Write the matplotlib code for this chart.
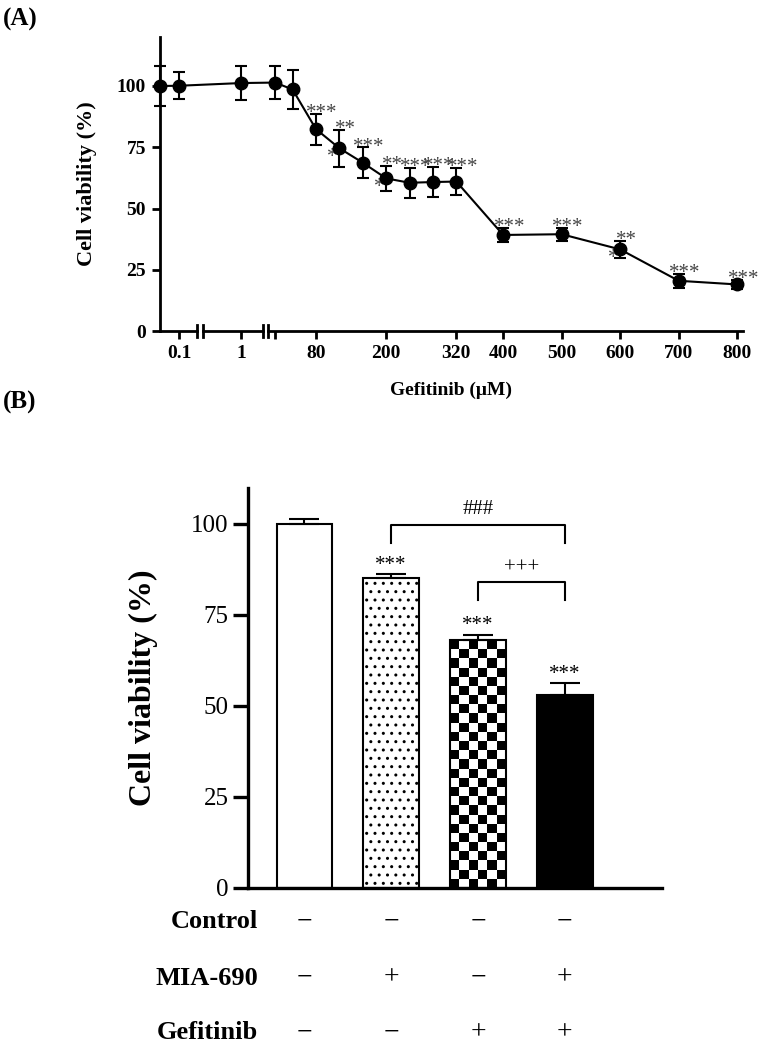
import matplotlib
matplotlib.use('Agg')
import matplotlib.pyplot as plt
import numpy as np
from matplotlib.patches import ConnectionPatch
from matplotlib.transforms import blended_transform_factory

plt.rcParams['font.family'] = ['Liberation Serif', 'DejaVu Serif']

# ---- panel A data (broken x axis: three segments) ----
conc_low = [0, 0.1]
via_low = [100.0, 100.1]
sd_low = [8.0, 5.5]

conc_mid = [1]
via_mid = [101.2]
sd_mid = [7.0]

conc_high = [10, 40, 80, 120, 160, 200, 240, 280, 320, 400, 500, 600, 700, 800]
via_high = [101.4, 98.6, 82.4, 74.6, 68.7, 62.3, 60.5, 60.8, 61.0, 39.2, 39.5, 33.3, 20.5, 19.0]
sd_high = [6.7, 8.0, 6.3, 7.5, 6.2, 5.2, 6.2, 6.1, 5.5, 2.9, 2.7, 3.3, 2.8, 2.0]
stars_high = ['', '', '***', '**', '***', '**', '***', '***', '***', '***', '***', '**', '***', '***']

ticks_low, labels_low = [0.1], ['0.1']
ticks_mid, labels_mid = [1], ['1']
ticks_high = [10, 80, 200, 320, 400, 500, 600, 700, 800]
labels_high = ['', '80', '200', '320', '400', '500', '600', '700', '800']
yticks_a = [0, 25, 50, 75, 100]

# ---- panel B data ----
groups = ['Control', 'MIA-690', 'Gefitinib', 'MIA-690 + Gefitinib']
via_b = [100.0, 85.1, 68.0, 52.9]
sem_b = [1.5, 1.1, 1.6, 3.4]
stars_b = ['', '***', '***', '***']
row_names = ['Control', 'MIA-690', 'Gefitinib']
row_signs = [['−', '−', '−', '−'],
             ['−', '+', '−', '+'],
             ['−', '−', '+', '+']]

W, H = 773, 1045
fig = plt.figure(figsize=(W / 100, H / 100), dpi=100)


def px_axes(x0, x1, ytop, ybot):
    return fig.add_axes([x0 / W, 1 - ybot / H, (x1 - x0) / W, (ybot - ytop) / H])


ax1 = px_axes(160, 197, 37, 331)
ax2 = px_axes(203, 263, 37, 331)
ax3 = px_axes(268, 743, 37, 331)

segs = [(ax1, conc_low, via_low, sd_low, (0, 0.195), ticks_low, labels_low),
        (ax2, conc_mid, via_mid, sd_mid, (0.4, 1.35), ticks_mid, labels_mid),
        (ax3, conc_high, via_high, sd_high, (-2, 810), ticks_high, labels_high)]

for ax, x, y, e, lim, tk, tl in segs:
    eb = ax.errorbar(x, y, yerr=e, fmt='o-', color='black', ms=9, lw=1.5,
                     elinewidth=1.5, capsize=4.2, capthick=1.5)
    eb[0].set_clip_on(False)
    for c in list(eb[1]) + list(eb[2]):
        c.set_clip_on(False)
    ax.set_xlim(*lim)
    ax.set_ylim(0, 120)
    ax.set_xticks(tk)
    ax.set_xticklabels(tl, fontweight='bold')
    ax.spines['top'].set_visible(False)
    ax.spines['right'].set_visible(False)
    ax.spines['bottom'].set_linewidth(2)
    ax.spines['left'].set_linewidth(2)
    ax.tick_params(direction='out', length=6, width=2, labelsize=14, pad=4)
    ax.patch.set_visible(False)

ax1.set_yticks(yticks_a)
ax1.set_yticklabels([str(v) for v in yticks_a], fontweight='bold')
for ax in (ax2, ax3):
    ax.spines['left'].set_visible(False)
    ax.tick_params(axis='y', left=False, labelleft=False)

# break marks
for ax, xa in [(ax1, 1), (ax2, 0), (ax2, 1), (ax3, 0)]:
    ax.plot([xa, xa], [-0.022, 0.022], transform=ax.transAxes, color='black',
            lw=2, clip_on=False)

# connecting lines across the breaks
for (axa, xa, ya), (axb_, xb, yb) in [((ax1, conc_low[-1], via_low[-1]), (ax2, conc_mid[0], via_mid[0])),
                                      ((ax2, conc_mid[-1], via_mid[-1]), (ax3, conc_high[0], via_high[0]))]:
    cp = ConnectionPatch(xyA=(xa, ya), coordsA=axa.transData, xyB=(xb, yb),
                         coordsB=axb_.transData, color='black', lw=1.5)
    fig.add_artist(cp)

for xi, yi, si, s in zip(conc_high, via_high, sd_high, stars_high):
    if not s:
        continue
    ax3.annotate(s, (xi, yi + si), xytext=(4.5, -3), textcoords='offset points',
                 ha='center', va='baseline', fontsize=15, color='#444444')
    if s == '**':
        ax3.annotate('*', (xi, yi), xytext=(-5, -10), textcoords='offset points',
                     ha='center', va='baseline', fontsize=15, color='#444444', zorder=1)

ax1.set_ylabel('Cell viability (%)', fontsize=16, fontweight='bold')
ax1.yaxis.set_label_coords(-1.70, 0.5)

fig.text(451 / W, 1 - 390 / H, 'Gefitinib (μM)', ha='center', va='center',
         fontsize=14, fontweight='bold')
fig.text(3 / W, 1 - 19 / H, '(A)', ha='left', va='center', fontsize=18, fontweight='bold')
fig.text(3 / W, 1 - 402 / H, '(B)', ha='left', va='center', fontsize=18, fontweight='bold')

# ---- panel B ----
axb = px_axes(248, 662, 487.6, 887.7)
xpos = np.arange(len(groups))
bw = 0.64
bars = axb.bar(xpos, via_b, width=bw, color=['white', 'white', 'none', 'black'],
               edgecolor='black', linewidth=1.5)
bars[1].set_hatch('..')

# checkerboard fill for the gefitinib bar
n_cols = 6
n_rows = int(round(via_b[2] / 2.55))
checker = np.indices((n_rows, n_cols)).sum(axis=0) % 2
im = axb.imshow(checker, cmap='gray', extent=(xpos[2] - bw / 2, xpos[2] + bw / 2, 0, via_b[2]),
                aspect='auto', interpolation='nearest', zorder=0.9)
im.set_clip_path(bars[2])

axb.errorbar(xpos, via_b, yerr=[np.zeros(len(sem_b)), sem_b], fmt='none', ecolor='black',
             elinewidth=1.5, capsize=10.8, capthick=1.5)

for xi, v, e, s in zip(xpos, via_b, sem_b, stars_b):
    if s:
        axb.annotate(s, (xi, v + e), xytext=(0, 3), textcoords='offset points',
                     ha='center', va='baseline', fontsize=15)

# comparison brackets
axb.plot([1, 1, 3, 3], [94.7, 99.7, 99.7, 94.7], color='black', lw=1.5)
axb.text(2, 103.9, '###', ha='center', va='center', fontsize=15)
axb.plot([2, 2, 3, 3], [79, 84, 84, 79], color='black', lw=1.5)
axb.text(2.5, 87.9, '+++', ha='center', va='center', fontsize=15)

axb.set_xlim(-0.65, 4.12)
axb.set_ylim(0, 110)
axb.set_yticks([0, 25, 50, 75, 100])
axb.set_xticks([])
axb.spines['top'].set_visible(False)
axb.spines['right'].set_visible(False)
axb.spines['left'].set_linewidth(2.4)
axb.spines['bottom'].set_linewidth(2.4)
axb.tick_params(axis='y', direction='out', length=10.8, width=2.4, labelsize=18, pad=3)
axb.set_ylabel('Cell viability (%)', fontsize=23, fontweight='bold')
axb.yaxis.set_label_coords(-0.217, 0.5)

row_y = [-0.085, -0.226, -0.363]
trans = blended_transform_factory(axb.transData, axb.transAxes)
for r, name in enumerate(row_names):
    axb.text(0.024, row_y[r], name, transform=axb.transAxes, ha='right', va='center',
             fontsize=19, fontweight='bold')
    for i, s in enumerate(row_signs[r]):
        axb.text(xpos[i], row_y[r], s, transform=trans, ha='center', va='center', fontsize=20)

fig.savefig('out.png', dpi=100)
